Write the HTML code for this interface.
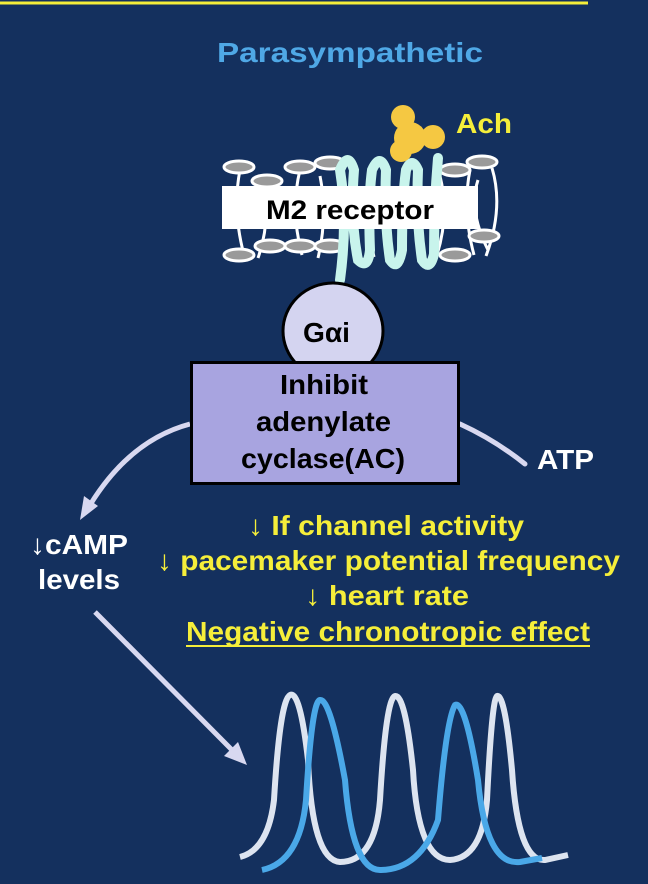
<!DOCTYPE html>
<html><head><style>
body{margin:0;background:#14305e;}
svg{display:block;font-family:"Liberation Sans",sans-serif;font-weight:bold;}
</style></head><body>
<svg width="648" height="884" viewBox="0 0 648 884">
<rect width="648" height="884" fill="#14305e"/>
<line x1="0" y1="3" x2="588" y2="3" stroke="#f5ee3a" stroke-width="3"/>
<text x="217" y="62" font-size="28" fill="#4fa8e6" textLength="266" lengthAdjust="spacingAndGlyphs">Parasympathetic</text>
<!-- membrane -->
<g stroke="#fff" stroke-width="3" fill="none">
<path d="M240 170 q-8 40 4 85 M262 178 q10 40 -4 80 M300 170 q-10 40 2 85 M320 176 q8 40 -2 82 M370 172 q-6 40 4 85 M440 176 q10 40 -4 82 M470 170 q-8 40 4 85 M492 168 q12 40 -6 88 M478 180 q-10 30 10 70"/>
</g>
<g fill="#9a9a9a" stroke="#fff" stroke-width="3">
<ellipse cx="239" cy="167" rx="15" ry="6"/><ellipse cx="267" cy="181" rx="15" ry="6"/>
<ellipse cx="300" cy="167" rx="15" ry="6"/><ellipse cx="330" cy="163" rx="15" ry="6"/>
<ellipse cx="455" cy="170" rx="15" ry="6"/><ellipse cx="482" cy="162" rx="15" ry="6"/>
<ellipse cx="239" cy="255" rx="15" ry="6"/><ellipse cx="270" cy="246" rx="15" ry="6"/>
<ellipse cx="300" cy="246" rx="15" ry="6"/><ellipse cx="330" cy="246" rx="15" ry="6"/>
<ellipse cx="455" cy="255" rx="15" ry="6"/><ellipse cx="484" cy="236" rx="15" ry="6"/>
</g>
<path d="M340 280 q8 -60 0 -110 q8 -20 14 0 q-4 50 4 90 q10 10 12 -10 q-2 -50 2 -80 q8 -18 14 0 q-2 50 4 90 q8 12 12 -10 q0 -50 4 -80 q6 -14 12 0 q-2 50 4 90 q8 12 12 -6 q0 -50 4 -96" stroke="#c8f4ec" stroke-width="10" fill="none" stroke-linecap="round"/>
<rect x="222" y="186" width="256" height="43" fill="#fff"/>
<text x="266" y="219" font-size="27" fill="#000" textLength="168" lengthAdjust="spacingAndGlyphs">M2 receptor</text>
<g fill="#f5c842"><circle cx="403" cy="117" r="12"/><circle cx="410" cy="138" r="16"/><circle cx="433" cy="137" r="12"/><circle cx="401" cy="151" r="11"/></g>
<text x="456" y="133" font-size="28" fill="#f5ee3a" textLength="56" lengthAdjust="spacingAndGlyphs">Ach</text>
<path d="M190 424 Q130 440 90 505" stroke="#d8d8f0" stroke-width="5" fill="none"/>
<polygon points="80,520 84,496 98,506" fill="#d8d8f0"/>
<path d="M460 424 Q495 440 525 464" stroke="#d8d8f0" stroke-width="5" fill="none" stroke-linecap="round"/>
<line x1="95" y1="612" x2="232" y2="750" stroke="#d8d8f0" stroke-width="5"/>
<polygon points="247,765 224,756 238,742" fill="#d8d8f0"/>
<ellipse cx="333" cy="331" rx="50" ry="48" fill="#d4d4f0" stroke="#000" stroke-width="3"/>
<text x="303" y="342" font-size="28" fill="#000" textLength="47" lengthAdjust="spacingAndGlyphs">Gαi</text>
<rect x="191.5" y="362.5" width="267" height="121" fill="#a8a4e0" stroke="#000" stroke-width="3"/>
<g font-size="28" fill="#000">
<text x="280" y="394" textLength="88" lengthAdjust="spacingAndGlyphs">Inhibit</text>
<text x="256" y="431" textLength="135" lengthAdjust="spacingAndGlyphs">adenylate</text>
<text x="241" y="468" textLength="164" lengthAdjust="spacingAndGlyphs">cyclase(AC)</text>
</g>
<text x="537" y="469" font-size="28" fill="#fff" textLength="57" lengthAdjust="spacingAndGlyphs">ATP</text>
<g font-size="28" fill="#fff">
<text x="30" y="554" textLength="98" lengthAdjust="spacingAndGlyphs">↓cAMP</text>
<text x="38" y="589" textLength="82" lengthAdjust="spacingAndGlyphs">levels</text>
</g>
<g font-size="28" fill="#f5ee3a">
<text x="248" y="535" textLength="276" lengthAdjust="spacingAndGlyphs">↓ If channel activity</text>
<text x="157" y="570" textLength="463" lengthAdjust="spacingAndGlyphs">↓ pacemaker potential frequency</text>
<text x="305" y="605" textLength="164" lengthAdjust="spacingAndGlyphs">↓ heart rate</text>
<text x="186" y="641" textLength="404" lengthAdjust="spacingAndGlyphs">Negative chronotropic effect</text>
</g>
<line x1="186" y1="646" x2="590" y2="646" stroke="#f5ee3a" stroke-width="2"/>
<path d="M240 857 Q268 850 274 800 Q280 700 290 695 Q300 690 308 760 Q312 860 340 862 Q375 862 380 800 Q386 698 395 696 Q405 694 413 770 Q418 860 450 860 Q482 858 487 800 Q492 698 497 696 Q505 694 512 770 Q518 862 545 860 L568 855" stroke="#dde4f0" stroke-width="6" fill="none"/>
<path d="M262 870 Q300 862 306 800 Q312 700 320 700 Q330 698 345 780 Q352 870 380 870 Q420 870 438 820 Q446 720 455 705 Q465 700 478 780 Q486 866 520 862 L542 858" stroke="#4aa8e8" stroke-width="6" fill="none"/>
</svg>
</body></html>
